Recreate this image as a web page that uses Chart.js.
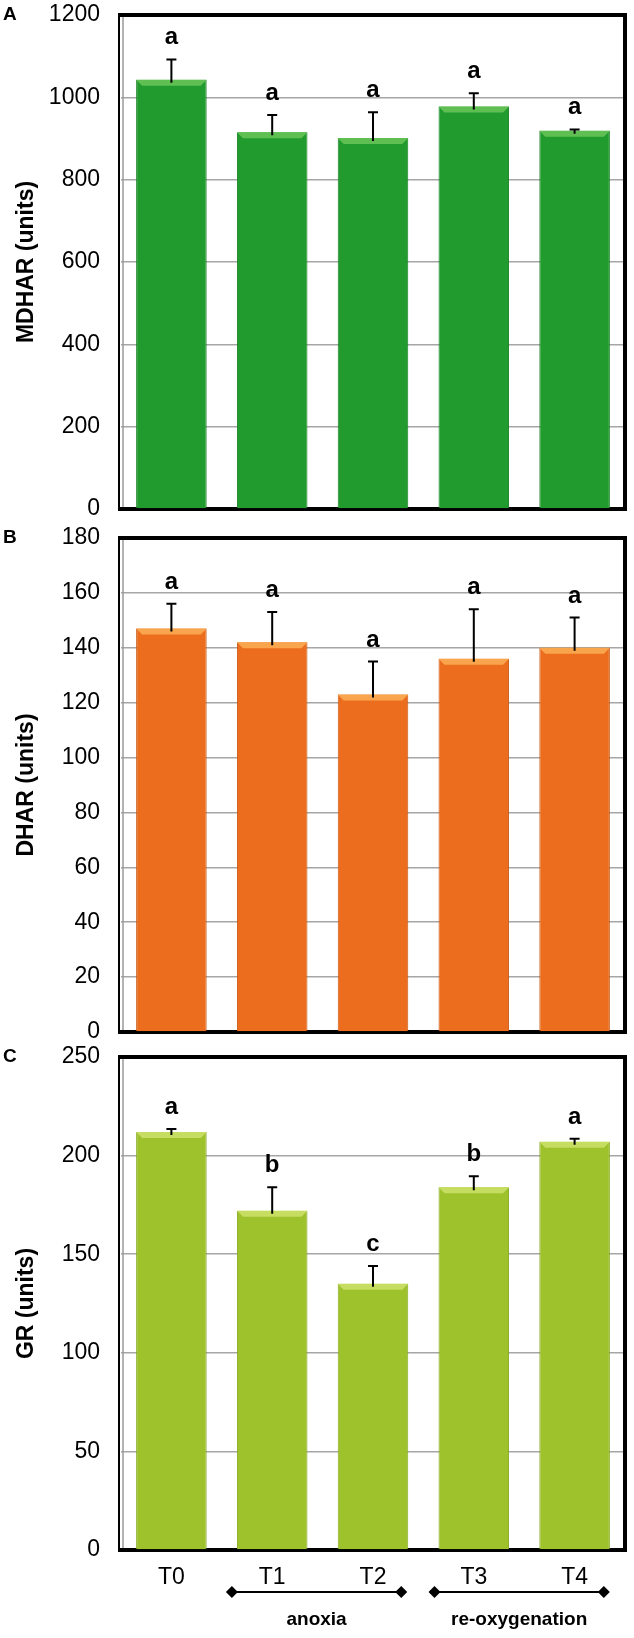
<!DOCTYPE html>
<html>
<head>
<meta charset="utf-8">
<title>MDHAR, DHAR, GR</title>
<script src="https://cdn.jsdelivr.net/npm/chart.js@4.4.1/dist/chart.umd.min.js"></script>
<style>
  body { margin: 0; background: #fff; }
  #wrap { position: relative; width: 634px; height: 1638px; }
  canvas { position: absolute; left: 0; }
</style>
</head>
<body>
<div id="wrap">
  <canvas id="chartA" width="634" height="525" style="top:0px"></canvas>
  <canvas id="chartB" width="634" height="520" style="top:525px"></canvas>
  <canvas id="chartC" width="634" height="593" style="top:1045px"></canvas>
</div>
<script>
// categories
let times = ['T0', 'T1', 'T2', 'T3', 'T4'];

// panel A - MDHAR
let mdharMean = [1043, 915, 901, 978, 919];
let mdharErr = [49, 42, 63, 32, 3];
let mdharSig = ['a', 'a', 'a', 'a', 'a'];

// panel B - DHAR
let dharMean = [147, 142, 123, 136, 140];
let dharErr = [9, 11, 12, 18, 11];
let dharSig = ['a', 'a', 'a', 'a', 'a'];

// panel C - GR
let grMean = [212, 172, 135, 184, 207];
let grErr = [1.5, 12, 9, 5.5, 1.5];
let grSig = ['a', 'b', 'c', 'b', 'a'];

// treatment phases under the x axis
let phases = ['anoxia', 're-oxygenation'];

const FONT = '"Liberation Sans", Arial, sans-serif';
Chart.defaults.font.family = FONT;
Chart.defaults.font.size = 23;
Chart.defaults.color = '#000';

// frame, error bars, letters, bevel
const panelPlugin = {
    id: 'panel',
    beforeDatasetsDraw(chart) {
        let ctx = chart.ctx;
        let a = chart.chartArea;
        ctx.save();
        ctx.strokeStyle = '#000';
        ctx.lineWidth = 4;
        ctx.beginPath();
        ctx.moveTo(a.left - 3, a.bottom);
        ctx.lineTo(a.right + 2, a.bottom);
        ctx.stroke();
        ctx.restore();
    },
    afterDatasetsDraw(chart) {
        let ctx = chart.ctx;
        let opts = chart.options.plugins.panel;
        let meta = chart.getDatasetMeta(0);
        let y = chart.scales.y;
        ctx.save();
        meta.data.forEach((bar, i) => {
            let w = bar.width;
            let left = bar.x - w / 2;
            let right = bar.x + w / 2;
            // bevel on top
            ctx.fillStyle = opts.bevel;
            ctx.beginPath();
            ctx.moveTo(left, bar.y);
            ctx.lineTo(right, bar.y);
            ctx.lineTo(right - 6, bar.y + 6);
            ctx.lineTo(left + 6, bar.y + 6);
            ctx.closePath();
            ctx.fill();
            // error bar
            let top = y.getPixelForValue(opts.mean[i] + opts.err[i]);
            ctx.strokeStyle = '#000';
            ctx.lineWidth = 2;
            ctx.beginPath();
            ctx.moveTo(bar.x, bar.y + 3);
            ctx.lineTo(bar.x, top);
            ctx.moveTo(bar.x - 5, top);
            ctx.lineTo(bar.x + 5, top);
            ctx.stroke();
            // significance letter
            ctx.fillStyle = '#000';
            ctx.font = 'bold 24px ' + FONT;
            ctx.textAlign = 'center';
            ctx.textBaseline = 'alphabetic';
            ctx.fillText(opts.sig[i], bar.x, top - 15);
        });
        ctx.restore();
    },
    afterDraw(chart) {
        let ctx = chart.ctx;
        let a = chart.chartArea;
        let opts = chart.options.plugins.panel;
        ctx.save();
        ctx.strokeStyle = '#000';
        ctx.lineWidth = 4;
        ctx.beginPath();
        ctx.moveTo(a.left - 3, a.top);
        ctx.lineTo(a.right, a.top);
        ctx.lineTo(a.right, a.bottom + 2);
        ctx.stroke();
        ctx.lineWidth = 2;
        ctx.beginPath();
        ctx.moveTo(a.left - 2, a.top - 2);
        ctx.lineTo(a.left - 2, a.bottom);
        ctx.stroke();
        ctx.strokeStyle = '#9a9a9a';
        ctx.lineWidth = 1.5;
        ctx.beginPath();
        ctx.moveTo(a.left + 2, a.top + 2);
        ctx.lineTo(a.left + 2, a.bottom - 2);
        ctx.stroke();
        // panel letter
        ctx.fillStyle = '#000';
        ctx.font = 'bold 19px ' + FONT;
        ctx.textAlign = 'left';
        ctx.textBaseline = 'middle';
        ctx.fillText(opts.letter, 3, a.top);

        // phase brackets under panel C
        if (opts.phases) {
            let x = chart.scales.x;
            let spans = [[0.6, 2.28], [2.61, 4.29]];
            let by = a.bottom + 42;
            spans.forEach((s, k) => {
                let x0 = x.getPixelForValue(s[0]);
                let x1 = x.getPixelForValue(s[1]);
                ctx.strokeStyle = '#000';
                ctx.lineWidth = 2;
                ctx.beginPath();
                ctx.moveTo(x0, by);
                ctx.lineTo(x1, by);
                ctx.stroke();
                ctx.fillStyle = '#000';
                [x0, x1].forEach(px => {
                    ctx.beginPath();
                    ctx.moveTo(px - 6, by);
                    ctx.lineTo(px, by - 6);
                    ctx.lineTo(px + 6, by);
                    ctx.lineTo(px, by + 6);
                    ctx.closePath();
                    ctx.fill();
                });
                ctx.font = 'bold 19px ' + FONT;
                ctx.textAlign = 'center';
                ctx.textBaseline = 'middle';
                ctx.fillText(opts.phases[k], (x0 + x1) / 2, by + 28);
            });
        }
        ctx.restore();
    }
};

function makePanel(id, cfg) {
    let ctx = document.getElementById(id).getContext('2d');
    return new Chart(ctx, {
        type: 'bar',
        data: {
            labels: times,
            datasets: [{
                data: cfg.mean,
                backgroundColor: cfg.color,
                borderColor: cfg.edge,
                borderWidth: { left: 1, right: 1, top: 0, bottom: 0 },
                borderSkipped: false,
                barPercentage: 0.7,
                categoryPercentage: 1.0
            }]
        },
        options: {
            responsive: false,
            animation: false,
            layout: { padding: cfg.padding },
            plugins: {
                legend: { display: false },
                tooltip: { enabled: false },
                panel: {
                    mean: cfg.mean, err: cfg.err, sig: cfg.sig,
                    bevel: cfg.bevel, letter: cfg.letter, phases: cfg.phases
                }
            },
            scales: {
                x: {
                    display: cfg.showX,
                    grid: { display: false, drawTicks: false },
                    border: { display: false },
                    ticks: { color: '#000', padding: 14 },
                    afterFit(scale) {
                        if (cfg.showX) scale.height = 40;
                        scale.paddingLeft = 0;
                        scale.paddingRight = 0;
                    }
                },
                y: {
                    min: 0,
                    max: cfg.max,
                    ticks: {
                        stepSize: cfg.step,
                        color: '#000',
                        padding: 21,
                        callback: v => String(v)
                    },
                    grid: { color: '#a6a6a6', lineWidth: 1.5, drawTicks: false },
                    border: { display: false },
                    title: {
                        display: true,
                        text: cfg.title,
                        color: '#000',
                        font: { size: 23, weight: 'bold' },
                        padding: { top: 13, bottom: 0 }
                    },
                    afterFit(scale) {
                        scale.width = 121;
                        scale.paddingTop = 0;
                        scale.paddingBottom = 0;
                    }
                }
            }
        },
        plugins: [panelPlugin]
    });
}

makePanel('chartA', {
    mean: mdharMean, err: mdharErr, sig: mdharSig, letter: 'A',
    title: 'MDHAR (units)', max: 1200, step: 200,
    color: '#219b2e', edge: '#17801f', bevel: '#5fbf52',
    padding: { top: 15, bottom: 16, left: 0, right: 9 }, showX: false
});

makePanel('chartB', {
    mean: dharMean, err: dharErr, sig: dharSig, letter: 'B',
    title: 'DHAR (units)', max: 180, step: 20,
    color: '#ec6d1e', edge: '#c85812', bevel: '#f8a54e',
    padding: { top: 13, bottom: 13, left: 0, right: 9 }, showX: false
});

makePanel('chartC', {
    mean: grMean, err: grErr, sig: grSig, letter: 'C', phases: phases,
    title: 'GR (units)', max: 250, step: 50,
    color: '#9ec22b', edge: '#86a81f', bevel: '#c6dd62',
    padding: { top: 12, bottom: 48, left: 0, right: 9 }, showX: true
});
</script>
</body>
</html>
